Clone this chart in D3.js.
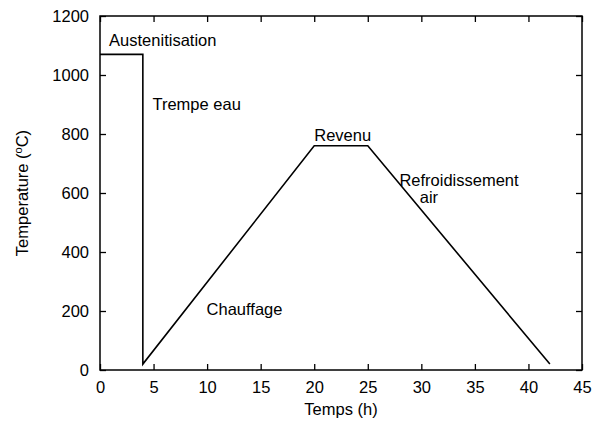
<!DOCTYPE html>
<html><head><meta charset="utf-8">
<script src="https://cdn.jsdelivr.net/npm/d3@7"></script>
<style>body{margin:0;background:#fff}svg{display:block}text{font-family:"Liberation Sans",Arial,sans-serif;fill:#000}</style>
</head><body>
<script>
const timeH = [0, 4, 4, 20, 25, 42];
const tempC = [1070, 1070, 20, 760, 760, 20];
const xTicks = [0, 5, 10, 15, 20, 25, 30, 35, 40, 45];
const yTicks = [0, 200, 400, 600, 800, 1000, 1200];
const labels = [
  {text: "Austenitisation", t: 0.85, v: 1100},
  {text: "Trempe eau", t: 4.9, v: 880},
  {text: "Revenu", t: 20.0, v: 775},
  {text: "Refroidissement", t: 27.95, v: 625},
  {text: "air", t: 29.85, v: 567},
  {text: "Chauffage", t: 9.95, v: 185}
];

const W = 595, H = 421;
const m = {l: 100, r: 13, t: 16, b: 51};
const svg = d3.select("body").append("svg").attr("width", W).attr("height", H);
const x = d3.scaleLinear().domain([0, 45]).range([m.l, W - m.r]);
const y = d3.scaleLinear().domain([0, 1200]).range([H - m.b, m.t]);
const fs = "16.5px";

const gB = svg.append("g").attr("transform", `translate(0,${y(0)})`)
  .call(d3.axisBottom(x).tickValues(xTicks).tickSize(-6).tickPadding(11).tickFormat(d3.format("d")));
const gT = svg.append("g").attr("transform", `translate(0,${y(1200)})`)
  .call(d3.axisTop(x).tickValues(xTicks).tickSize(-6).tickFormat(""));
const gL = svg.append("g").attr("transform", `translate(${x(0)},0)`)
  .call(d3.axisLeft(y).tickValues(yTicks).tickSize(-6).tickPadding(11).tickFormat(d3.format("d")));
const gR = svg.append("g").attr("transform", `translate(${x(45)},0)`)
  .call(d3.axisRight(y).tickValues(yTicks).tickSize(-6).tickFormat(""));
[gB, gT, gL, gR].forEach(g => {
  g.select(".domain").remove();
  g.selectAll(".tick line").attr("stroke", "#000").attr("stroke-width", 1.3);
  g.selectAll("text").attr("font-size", fs).attr("font-family", '"Liberation Sans",Arial,sans-serif').attr("fill", "#000");
});
gB.selectAll(".tick text").attr("dy", "0.71em");

svg.append("rect").attr("x", x(0)).attr("y", y(1200))
  .attr("width", x(45) - x(0)).attr("height", y(0) - y(1200))
  .attr("fill", "none").attr("stroke", "#000").attr("stroke-width", 1.5);

const line = d3.line().x((d, i) => x(timeH[i])).y((d, i) => y(tempC[i]));
svg.append("path").datum(timeH).attr("d", line)
  .attr("fill", "none").attr("stroke", "#000").attr("stroke-width", 1.6).attr("stroke-linejoin", "miter");

svg.selectAll("text.ann").data(labels).enter().append("text").attr("class", "ann")
  .attr("x", d => x(d.t)).attr("y", d => y(d.v)).attr("font-size", fs).text(d => d.text);

svg.append("text").attr("x", (x(0) + x(45)) / 2).attr("y", 415)
  .attr("text-anchor", "middle").attr("font-size", fs).text("Temps (h)");

const yt = svg.append("text").attr("transform", `translate(28,${(y(0) + y(1200)) / 2}) rotate(-90)`)
  .attr("text-anchor", "middle").attr("font-size", fs);
yt.append("tspan").text("Temperature (");
yt.append("tspan").attr("font-size", "11px").attr("dy", "-6").text("o");
yt.append("tspan").attr("dy", "6").text("C)");
</script>
</body></html>
